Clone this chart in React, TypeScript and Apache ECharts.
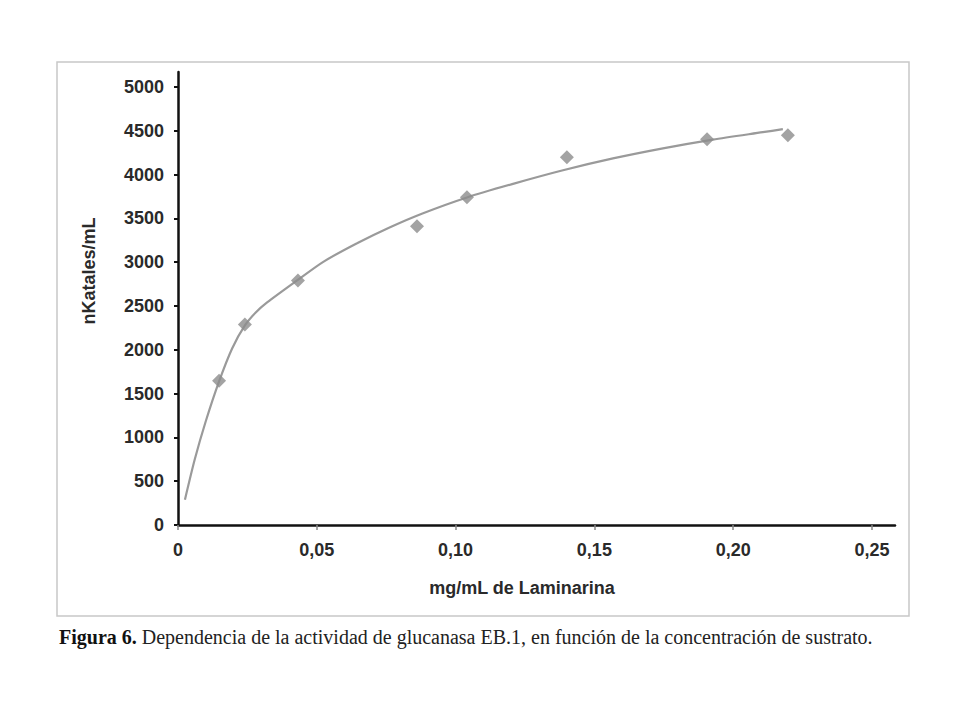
import React, { useEffect, useRef } from "react";
import * as echarts from "echarts";

// Measured points (mg/mL de Laminarina, nKatales/mL)
const concentracion = [0.0148, 0.0241, 0.0432, 0.0861, 0.1041, 0.1401, 0.1906, 0.2197];
const actividad = [1648, 2288, 2792, 3410, 3741, 4199, 4405, 4451];

// Trend curve
const curvaX = [0.0025, 0.006, 0.010, 0.0148, 0.0195, 0.0241, 0.028, 0.0321, 0.0429, 0.0522, 0.0645, 0.0764, 0.0883, 0.1041, 0.1207, 0.1387, 0.1567, 0.1747, 0.1927, 0.2107, 0.2179];
const curvaY = [289, 744, 1184, 1640, 2016, 2278, 2426, 2541, 2792, 3002, 3217, 3400, 3560, 3740, 3895, 4050, 4185, 4300, 4400, 4485, 4519];

const xTicks = [0, 0.05, 0.1, 0.15, 0.2, 0.25];
const xTickLabels = ["0", "0,05", "0,10", "0,15", "0,20", "0,25"];
const yTicks = [0, 500, 1000, 1500, 2000, 2500, 3000, 3500, 4000, 4500, 5000];

const xTitle = "mg/mL de Laminarina";
const yTitle = "nKatales/mL";
const captionBold = "Figura 6.";
const captionText = " Dependencia de la actividad de glucanasa EB.1, en función de la concentración de sustrato.";

export default function App() {
  const ref = useRef<HTMLDivElement>(null);
  useEffect(() => {
    if (!ref.current) return;
    const chart = echarts.init(ref.current, null, { renderer: "svg" });
    const labelFont = {
      fontFamily: "Liberation Sans, Arial, sans-serif",
      fontWeight: "bold" as const,
      fontSize: 18,
      color: "#2a2a2a",
    };
    chart.setOption({
      animation: false,
      backgroundColor: "#ffffff",
      grid: { left: 178, right: 65, top: 72, bottom: 195, containLabel: false },
      xAxis: {
        type: "value",
        min: 0,
        max: 0.2583,
        splitLine: { show: false },
        axisLine: { show: true, lineStyle: { color: "#111", width: 2.5 } },
        axisTick: { show: true, length: 5, customValues: xTicks, lineStyle: { color: "#888", width: 1.5 } },
        axisLabel: {
          ...labelFont,
          margin: 16,
          customValues: xTicks,
          formatter: (v: number) => {
            const i = xTicks.findIndex((t) => Math.abs(t - v) < 1e-9);
            return i >= 0 ? xTickLabels[i] : "";
          },
        },
      },
      yAxis: {
        type: "value",
        min: 0,
        max: 5172,
        splitLine: { show: false },
        axisLine: { show: true, lineStyle: { color: "#111", width: 2.5 } },
        axisTick: { show: true, length: 4, customValues: yTicks, lineStyle: { color: "#111", width: 2 } },
        axisLabel: {
          ...labelFont,
          margin: 14,
          customValues: yTicks,
          formatter: (v: number) => String(v),
        },
      },
      graphic: [
        {
          type: "rect",
          shape: { x: 57, y: 62, width: 852, height: 554 },
          style: { fill: "none", stroke: "#c8c8c8", lineWidth: 1.5 },
          z: -1,
        },
        {
          type: "text",
          x: 522,
          y: 588,
          style: { text: xTitle, fill: "#2a2a2a", font: "bold 18px Liberation Sans, Arial, sans-serif", align: "center", verticalAlign: "middle" },
        },
        {
          type: "text",
          x: 89,
          y: 271,
          rotation: Math.PI / 2,
          style: { text: yTitle, fill: "#2a2a2a", font: "bold 18px Liberation Sans, Arial, sans-serif", align: "center", verticalAlign: "middle" },
        },
        {
          type: "text",
          x: 59,
          y: 637,
          style: {
            text: "{b|" + captionBold + "}{r|" + captionText + "}",
            verticalAlign: "middle",
            rich: {
              b: { font: "bold 20px Liberation Serif, Times New Roman, serif", fill: "#111" },
              r: { font: "20px Liberation Serif, Times New Roman, serif", fill: "#222" },
            },
          },
        },
      ],
      series: [
        {
          type: "line",
          data: curvaX.map((x, i) => [x, curvaY[i]]),
          smooth: 0.25,
          showSymbol: false,
          symbol: "none",
          lineStyle: { color: "#9a9a9a", width: 2.2 },
          z: 2,
        },
        {
          type: "scatter",
          data: concentracion.map((x, i) => [x, actividad[i]]),
          symbol: "diamond",
          symbolSize: 14,
          itemStyle: { color: "#8c8c8c" },
          z: 3,
        },
      ],
    });
    return () => chart.dispose();
  }, []);
  return <div ref={ref} style={{ position: "fixed", left: 0, top: 0, width: 960, height: 720 }} />;
}
